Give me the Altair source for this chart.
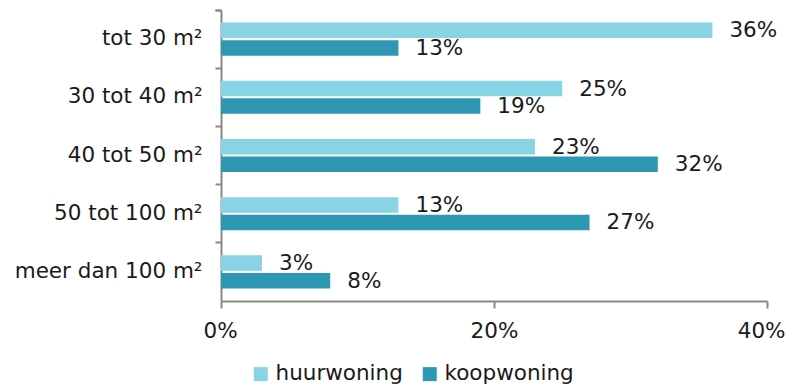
import altair as alt
import pandas as pd

categories = ["tot 30 m²", "30 tot 40 m²", "40 tot 50 m²", "50 tot 100 m²", "meer dan 100 m²"]
series = ["huurwoning", "koopwoning"]
huur = [36, 25, 23, 13, 3]
koop = [13, 19, 32, 27, 8]
x_ticks = [0, 20, 40]
colors = ["#88D4E4", "#2E97B4"]

rows = []
for c, h, k in zip(categories, huur, koop):
    rows.append({"cat": c, "serie": series[0], "val": h, "lab": f"{h}%"})
    rows.append({"cat": c, "serie": series[1], "val": k, "lab": f"{k}%"})
df = pd.DataFrame(rows)

FONT = "DejaVu Sans"
FS = 21.5

y_enc = alt.Y("cat:N", sort=categories, title=None,
              scale=alt.Scale(paddingInner=0, paddingOuter=0),
              axis=alt.Axis(labelFont=FONT, labelFontSize=FS, labelColor="#1a1a1a",
                            labelPadding=13, tickSize=6, tickColor="#888888",
                            domainColor="#888888", domainWidth=2, tickWidth=2,
                            bandPosition=0, ticks=True, grid=False, labelLimit=400,
                            tickExtra=True))
yoff = alt.YOffset("serie:N", sort=series,
                   scale=alt.Scale(paddingInner=0.114, paddingOuter=0.714))

x_enc = alt.X("val:Q", title=None,
              scale=alt.Scale(domain=[0, 40], nice=False, zero=True),
              axis=alt.Axis(values=x_ticks, labelExpr="datum.value + '%'",
                            labelFont=FONT, labelFontSize=FS, labelColor="#1a1a1a",
                            labelPadding=12, tickSize=7, tickColor="#888888",
                            domainColor="#888888", domainWidth=2, tickWidth=2,
                            labelFlush=True, labelFlushOffset=18,
                            labelOverlap=False, grid=False))

color_enc = alt.Color("serie:N", sort=series,
                      scale=alt.Scale(domain=series, range=colors),
                      legend=alt.Legend(title=None, orient="none", direction="horizontal",
                                        legendX=29, legendY=353,
                                        symbolType="square", symbolSize=196,
                                        symbolStrokeWidth=0, labelFont=FONT,
                                        labelFontSize=FS, labelColor="#1a1a1a",
                                        labelOffset=4, columnPadding=16))

base = alt.Chart(df)
bars = base.mark_bar(size=15.5).encode(y=y_enc, yOffset=yoff, x=x_enc, color=color_enc)
texts = base.mark_text(align="left", baseline="middle", dx=17, dy=1,
                       font=FONT, fontSize=FS, color="#1a1a1a").encode(
    y=alt.Y("cat:N", sort=categories), yOffset=alt.YOffset("serie:N", sort=series),
    x="val:Q", text="lab:N")

chart = alt.layer(bars, texts).properties(
    width=546, height=291,
    autosize=alt.AutoSizeParams(type="none"),
    padding={"left": 213, "top": 2, "right": 19, "bottom": 83},
).configure_view(stroke=None)

chart.save("out.html", embed_options={"renderer": "svg", "actions": False})
